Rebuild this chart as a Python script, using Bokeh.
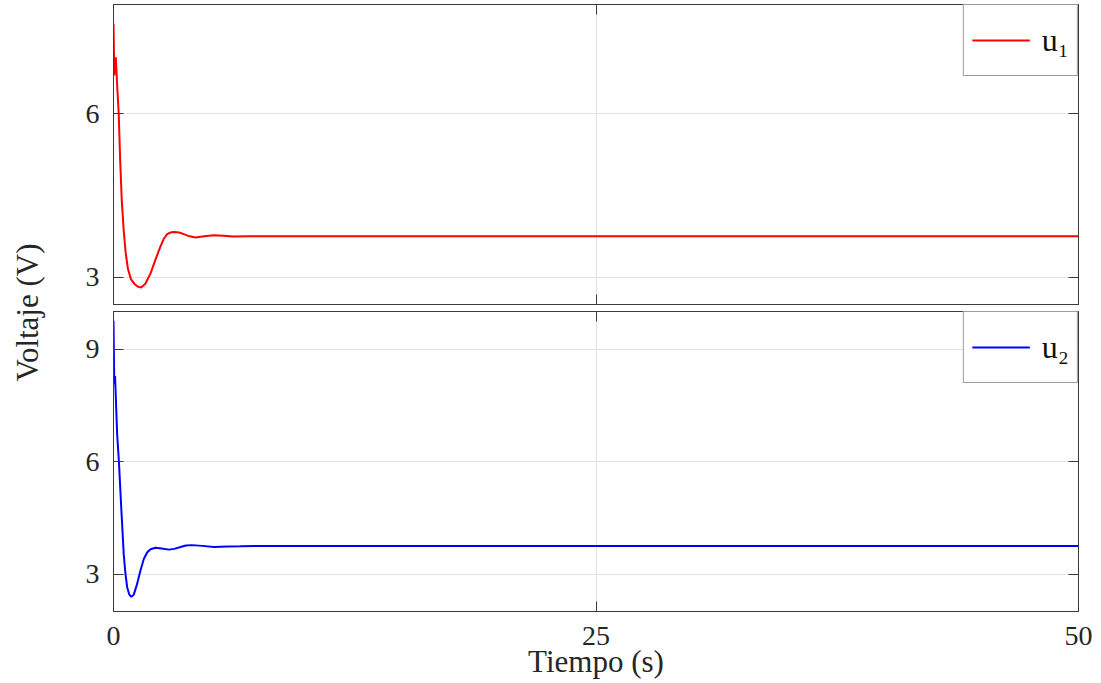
import math
from bokeh.plotting import figure
from bokeh.layouts import row, column
from bokeh.models import LinearAxis, FixedTicker, Label, Legend, LegendItem, Range1d
from bokeh.embed import file_html
from bokeh.resources import INLINE

# ---- data ----
t1 = [0.00, 0.04, 0.10, 0.12, 0.20, 0.27, 0.35, 0.43, 0.53, 0.63, 0.75, 0.90, 1.10, 1.25, 1.43,
      1.65, 1.92, 2.15, 2.43, 2.60, 2.78, 2.95, 3.12, 3.40, 3.64, 3.95, 4.25, 4.70, 5.20, 5.70,
      6.20, 7.00, 8.00, 50.0]
u1 = [7.64, 6.70, 7.00, 7.03, 6.45, 6.00, 5.10, 4.40, 3.85, 3.45, 3.15, 2.97, 2.87, 2.83, 2.81,
      2.88, 3.07, 3.30, 3.56, 3.70, 3.79, 3.82, 3.83, 3.82, 3.79, 3.75, 3.73, 3.75, 3.77, 3.76,
      3.745, 3.75, 3.75, 3.75]

t2 = [0.00, 0.04, 0.08, 0.19, 0.28, 0.40, 0.53, 0.62, 0.71, 0.82, 0.93, 1.05, 1.22, 1.40,
      1.57, 1.75, 1.92, 2.18, 2.50, 2.87, 3.15, 3.47, 3.75, 4.07, 4.60, 5.20, 5.90, 6.58,
      7.50, 50.0]
u2 = [9.75, 8.06, 8.28, 6.72, 6.00, 4.78, 3.53, 3.00, 2.64, 2.45, 2.39, 2.45, 2.73, 3.10,
      3.40, 3.58, 3.66, 3.70, 3.68, 3.65, 3.67, 3.72, 3.76, 3.77, 3.75, 3.72, 3.735, 3.74,
      3.75, 3.75]

x_ticks = [0, 25, 50]
y1_ticks = [3, 6]
y2_ticks = [3, 6, 9]
series_labels = ["u\u2081", "u\u2082"]
x_label = "Tiempo (s)"
y_label = "Voltaje (V)"

FONT = "Liberation Serif"
DARK = "#3a3a3a"
GRID = "#e2e2e2"


def style(p, yticks, show_x_labels):
    p.outline_line_color = DARK
    p.outline_line_width = 1
    p.background_fill_color = "white"
    p.border_fill_color = "white"
    p.xgrid.ticker = FixedTicker(ticks=x_ticks)
    p.ygrid.ticker = FixedTicker(ticks=yticks)
    p.grid.grid_line_color = GRID
    p.grid.grid_line_width = 1
    # mirrored axes (ticks only)
    p.add_layout(LinearAxis(), "right")
    p.add_layout(LinearAxis(), "above")
    for ax in p.xaxis:
        ax.ticker = FixedTicker(ticks=x_ticks)
    for ax in p.yaxis:
        ax.ticker = FixedTicker(ticks=yticks)
    for ax in p.axis:
        ax.axis_line_color = DARK
        ax.major_tick_line_color = DARK
        ax.major_tick_in = 10
        ax.major_tick_out = 0
        ax.minor_tick_line_color = None
        ax.major_label_text_font = FONT
        ax.major_label_text_color = None
        ax.major_label_text_font_size = "1px"
        ax.major_label_standoff = 0
    for ax in p.right:
        ax.major_label_overrides = {v: "" for v in yticks}
    for ax in p.above:
        ax.major_label_overrides = {v: "" for v in x_ticks}
    ly = p.left[0]
    ly.major_label_text_font_size = "28px"
    ly.major_label_text_color = "#262626"
    ly.major_label_standoff = 14
    bx = p.below[0]
    if show_x_labels:
        bx.major_label_text_font_size = "28px"
        bx.major_label_text_color = "#262626"
        bx.major_label_standoff = 15
        bx.axis_label = x_label
        bx.axis_label_text_font = FONT
        bx.axis_label_text_font_style = "normal"
        bx.axis_label_text_font_size = "31px"
        bx.axis_label_text_color = "#262626"
        bx.axis_label_standoff = -4
    else:
        bx.major_label_overrides = {v: "" for v in x_ticks}


def add_legend(p, r, label):
    leg = Legend(items=[LegendItem(label=label, renderers=[r])], location="top_right")
    leg.margin = 0
    leg.padding = 8
    leg.spacing = 0
    leg.glyph_width = 58
    leg.glyph_height = 54
    leg.label_height = 54
    leg.label_standoff = 12
    leg.border_line_color = DARK
    leg.border_line_width = 1
    leg.background_fill_color = "white"
    leg.background_fill_alpha = 1.0
    leg.label_text_font = FONT
    leg.label_text_font_size = "32px"
    leg.label_text_color = "#111111"
    p.add_layout(leg)


p1 = figure(width=1041, height=307, x_range=Range1d(0, 50), y_range=Range1d(2.5, 8),
            output_backend="svg", toolbar_location=None,
            min_border_left=53, min_border_right=23, min_border_top=4, min_border_bottom=3)
r1 = p1.line(t1, u1, line_color="#ff0000", line_width=2)
style(p1, y1_ticks, False)
add_legend(p1, r1, series_labels[0])

p2 = figure(width=1041, height=376, x_range=Range1d(0, 50), y_range=Range1d(2, 10),
            output_backend="svg", toolbar_location=None,
            min_border_left=53, min_border_right=23, min_border_top=4, min_border_bottom=72)
r2 = p2.line(t2, u2, line_color="#0000ff", line_width=2)
style(p2, y2_ticks, True)
add_legend(p2, r2, series_labels[1])

pl = figure(width=60, height=683, x_range=Range1d(0, 60), y_range=Range1d(0, 683),
            output_backend="svg", toolbar_location=None, min_border=0,
            x_axis_location=None, y_axis_location=None, outline_line_color=None)
pl.grid.visible = False
pl.add_layout(Label(x=27, y=371, text=y_label, angle=math.pi / 2, text_align="center",
                    text_baseline="middle", text_font=FONT, text_font_size="31px",
                    text_color="#262626"))

layout = row(pl, column(p1, p2, spacing=0), spacing=0)
open("out.html", "w").write(file_html(layout, INLINE))
